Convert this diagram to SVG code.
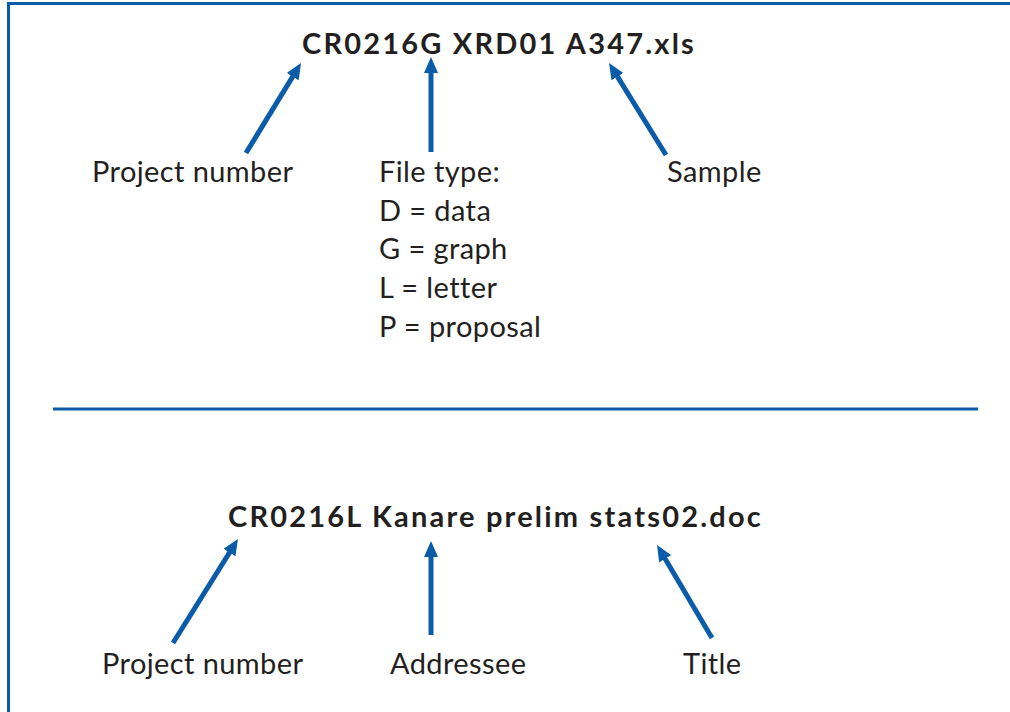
<svg xmlns="http://www.w3.org/2000/svg" width="1010" height="712" viewBox="0 0 1010 712">
<defs>
<style>
.frame{stroke:#0a5ca8;stroke-width:3;fill:none}
.conn{stroke:#0a5ca8;stroke-width:5;fill:none;marker-end:url(#ah)}
.t{font-family:Lato,"Open Sans","Liberation Sans",sans-serif;font-size:29px;letter-spacing:0.4px;fill:#231f20}
.b{font-weight:bold;letter-spacing:2.2px}
</style>
<marker id="ah" markerUnits="userSpaceOnUse" markerWidth="16" markerHeight="14" refX="10" refY="7" orient="auto">
<path d="M0,0 L16,7 L0,14 z" fill="#0a5ca8"/>
</marker>
</defs>
<rect width="1010" height="712" fill="#fff"/>
<g id="frame">
<path class="frame" d="M8.5,712 V3.5 H1010"/>
<line class="frame" x1="53" y1="409" x2="978" y2="409"/>
</g>
<g id="connectors">
<line class="conn" x1="246" y1="153" x2="297.9" y2="68.1"/>
<line class="conn" x1="431" y1="152" x2="431" y2="63"/>
<line class="conn" x1="666" y1="155" x2="612.2" y2="68.1"/>
<line class="conn" x1="173" y1="643" x2="234.8" y2="544.1"/>
<line class="conn" x1="431" y1="635" x2="431" y2="547"/>
<line class="conn" x1="712" y1="638" x2="660.1" y2="550.2"/>
</g>
<g id="filename1"><text class="t b" x="302" y="54">CR0216G XRD01 A347.xls</text></g>
<g id="project1"><text class="t" x="92" y="182">Project number</text></g>
<g id="filetype">
<text class="t" x="379" y="182">File type:</text>
<text class="t" x="379" y="221">D = data</text>
<text class="t" x="379" y="259">G = graph</text>
<text class="t" x="379" y="298">L = letter</text>
<text class="t" x="379" y="337">P = proposal</text>
</g>
<g id="sample"><text class="t" x="667" y="182">Sample</text></g>
<g id="filename2"><text class="t b" x="228" y="527">CR0216L Kanare prelim stats02.doc</text></g>
<g id="project2"><text class="t" x="102" y="674">Project number</text></g>
<g id="addressee"><text class="t" x="390" y="674">Addressee</text></g>
<g id="title"><text class="t" x="683" y="674">Title</text></g>
</svg>
